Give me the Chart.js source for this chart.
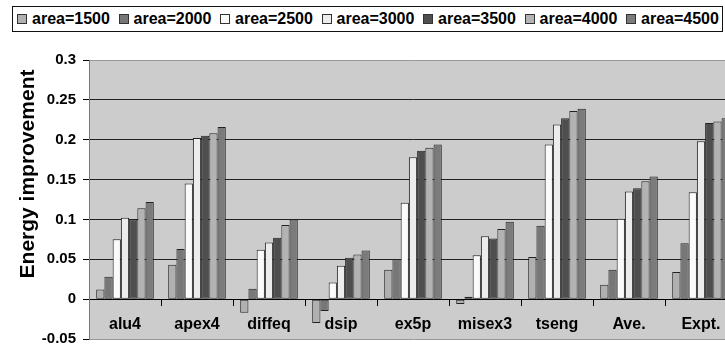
<!DOCTYPE html>
<html>
<head>
<meta charset="utf-8">
<script src="https://cdn.jsdelivr.net/npm/chart.js@4.4.1/dist/chart.umd.min.js"></script>
<style>
  html, body { margin: 0; padding: 0; background: #fff; overflow: hidden; }
  #wrap { position: absolute; left: 0; top: 0; width: 740px; height: 348px; }
  #legend {
    position: absolute; left: 12px; top: 6px; width: 711px; height: 26px;
    box-sizing: border-box; border: 1px solid #111; background: #fff;
    display: flex; align-items: center; padding-left: 4px;
    font: bold 16px "Liberation Sans", Arial, sans-serif; color: #000;
  }
  .item { display: flex; align-items: center; width: 101.5px; flex: none; white-space: nowrap; }
  .box { width: 10px; height: 10px; box-sizing: border-box; border: 1px solid #333; margin-right: 5px; }
</style>
</head>
<body>
<div id="wrap"><canvas id="chart"></canvas></div>
<div id="legend"></div>
<script>
// Datos
const categories = ['alu4', 'apex4', 'diffeq', 'dsip', 'ex5p', 'misex3', 'tseng', 'Ave.', 'Expt.'];
const seriesNames = ['area=1500', 'area=2000', 'area=2500', 'area=3000', 'area=3500', 'area=4000', 'area=4500'];
const area1500 = [0.012, 0.043, -0.017, -0.030, 0.037, -0.006, 0.053, 0.018, 0.034];
const area2000 = [0.028, 0.063, 0.013, -0.015, 0.050, 0.003, 0.092, 0.037, 0.070];
const area2500 = [0.075, 0.145, 0.062, 0.021, 0.121, 0.055, 0.194, 0.101, 0.134];
const area3000 = [0.102, 0.202, 0.071, 0.042, 0.178, 0.079, 0.219, 0.135, 0.198];
const area3500 = [0.100, 0.205, 0.077, 0.052, 0.186, 0.076, 0.227, 0.139, 0.221];
const area4000 = [0.114, 0.208, 0.093, 0.056, 0.190, 0.088, 0.236, 0.148, 0.223];
const area4500 = [0.122, 0.216, 0.100, 0.061, 0.194, 0.097, 0.239, 0.154, 0.227];
const yTicks = [-0.05, 0, 0.05, 0.1, 0.15, 0.2, 0.25, 0.3];
const yTickLabels = ['-0.05', '0', '0.05', '0.1', '0.15', '0.2', '0.25', '0.3'];
const yTitle = 'Energy improvement';

// Colores
const seriesColors = ['#b0b0b0', '#777777', '#fafafa', '#ececec', '#4e4e4e', '#b3b3b3', '#7b7b7b'];
const allSeries = [area1500, area2000, area2500, area3000, area3500, area4000, area4500];
const FONT = '"Liberation Sans", Arial, sans-serif';

const datasets = allSeries.map((values, i) => ({
    label: seriesNames[i],
    data: values,
    backgroundColor: seriesColors[i],
    borderColor: '#222',
    borderWidth: 1,
    borderSkipped: false,
    barPercentage: 1,
    categoryPercentage: 0.8
}));

// Leyenda en HTML
const legendEl = document.getElementById('legend');
seriesNames.forEach((name, i) => {
    const item = document.createElement('span');
    item.className = 'item';
    const box = document.createElement('span');
    box.className = 'box';
    box.style.background = seriesColors[i];
    item.appendChild(box);
    item.appendChild(document.createTextNode(name));
    legendEl.appendChild(item);
});

// Fondo gris del area de trazado
const plotBackground = {
    id: 'plotBackground',
    beforeDraw(chart) {
        const { ctx, chartArea } = chart;
        ctx.save();
        ctx.fillStyle = '#cccccc';
        ctx.fillRect(chartArea.left, chartArea.top, chartArea.right - chartArea.left, chartArea.bottom - chartArea.top);
        ctx.restore();
    }
};

// Titulo del eje Y
const yAxisTitle = {
    id: 'yAxisTitle',
    afterDraw(chart) {
        const ctx = chart.ctx;
        ctx.save();
        ctx.translate(28, 174);
        ctx.rotate(-Math.PI / 2);
        ctx.font = 'bold 21px ' + FONT;
        ctx.fillStyle = '#000';
        ctx.textAlign = 'center';
        ctx.textBaseline = 'middle';
        ctx.fillText(yTitle, 0, 0);
        ctx.restore();
    }
};

function gridColor(context) {
    const v = context.tick ? context.tick.value : null;
    if (v === null) return '#999';
    if (Math.abs(v - 0.3) < 1e-6 || Math.abs(v + 0.05) < 1e-6) return '#999';
    return '#222';
}

new Chart(document.getElementById('chart'), {
    type: 'bar',
    data: { labels: categories, datasets: datasets },
    options: {
        responsive: true,
        maintainAspectRatio: false,
        animation: false,
        layout: { padding: { top: 60, right: 3, left: 0, bottom: 9 } },
        plugins: {
            legend: { display: false },
            tooltip: { enabled: false }
        },
        scales: {
            x: {
                position: { y: 0 },
                afterFit(scale) {
                    scale.height = 0;
                    scale.paddingLeft = 0;
                    scale.paddingRight = 0;
                },
                grid: {
                    offset: true,
                    drawOnChartArea: false,
                    drawTicks: true,
                    tickLength: 6,
                    color: '#000'
                },
                border: { display: true, color: '#000', width: 1 },
                ticks: {
                    color: '#000',
                    padding: 10,
                    maxRotation: 0,
                    autoSkip: false,
                    font: { family: FONT, size: 16, weight: 'bold' }
                }
            },
            y: {
                min: -0.05,
                max: 0.3,
                afterFit(scale) {
                    scale.width = 89;
                    scale.paddingTop = 0;
                    scale.paddingBottom = 0;
                },
                afterBuildTicks(scale) { scale.ticks = yTicks.map(v => ({ value: v })); },
                grid: {
                    color: gridColor,
                    tickColor: '#000',
                    tickLength: 6,
                    lineWidth: 1
                },
                border: { display: true, color: '#777', width: 1 },
                ticks: {
                    color: '#000',
                    padding: 7,
                    font: { family: FONT, size: 15, weight: 'bold' },
                    callback: function (value) {
                        const idx = yTicks.findIndex(t => Math.abs(t - value) < 1e-6);
                        return idx >= 0 ? yTickLabels[idx] : '';
                    }
                }
            }
        }
    },
    plugins: [plotBackground, yAxisTitle]
});
</script>
</body>
</html>
